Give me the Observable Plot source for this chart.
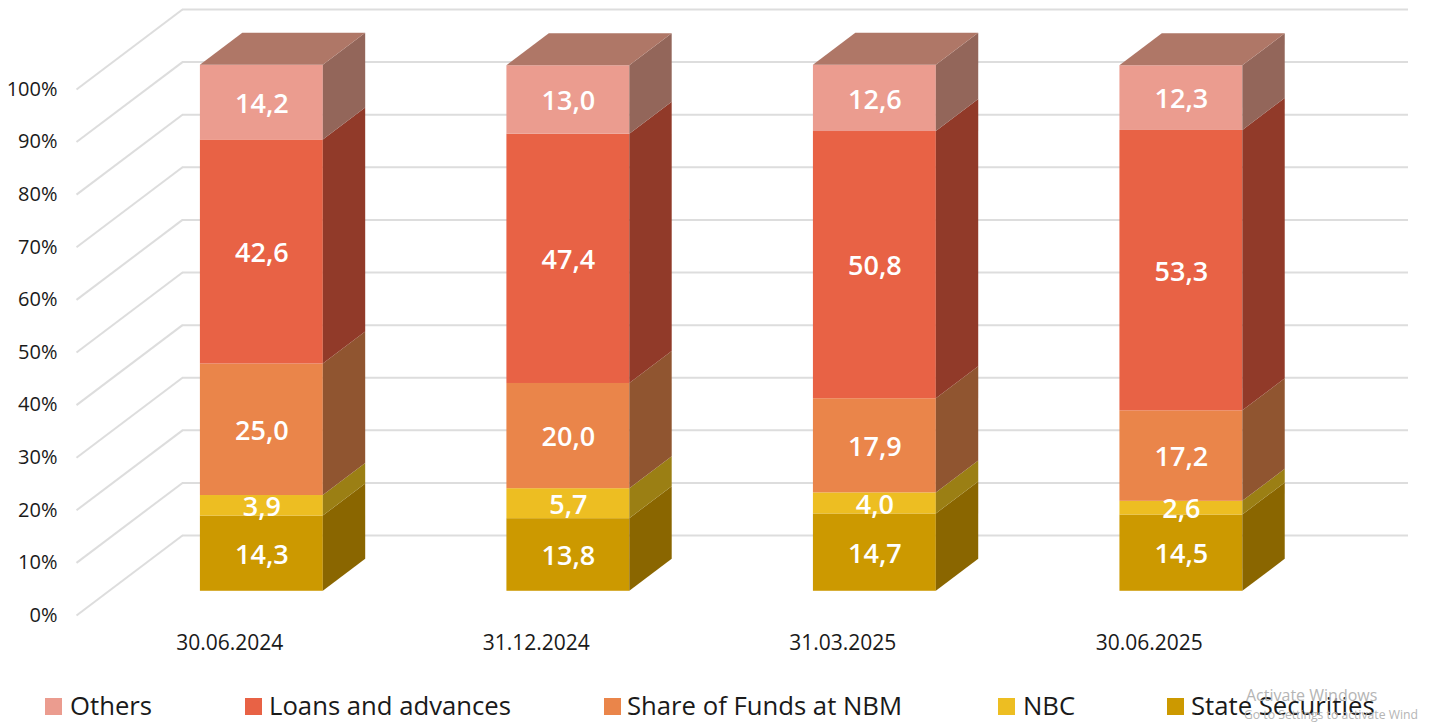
<!DOCTYPE html>
<html><head><meta charset="utf-8">
<script src="https://cdn.jsdelivr.net/npm/d3@7"></script>
<script src="https://cdn.jsdelivr.net/npm/@observablehq/plot@0.6"></script>
<style>
html,body{margin:0;padding:0;background:#fff;overflow:hidden}
#wrap{position:relative;width:1431px;height:722px;font-family:"Open Sans",sans-serif;color:#1a1a1a}
#wrap svg{display:block}
.lg{position:absolute;top:689px;font-size:25.7px;line-height:34px;white-space:nowrap}
.sw{position:absolute;top:698px;width:17px;height:17px}
.wm{position:absolute;color:#b5b5b5;white-space:nowrap}
</style></head><body><div id="wrap"></div>
<script>
const dates = ["30.06.2024","31.12.2024","31.03.2025","30.06.2025"];
const stateSecurities = [14.3,13.8,14.7,14.5];
const nbc = [3.9,5.7,4.0,2.6];
const shareOfFunds = [25.0,20.0,17.9,17.2];
const loans = [42.6,47.4,50.8,53.3];
const others = [14.2,13.0,12.6,12.3];
const seriesNames = ["State Securities","NBC","Share of Funds at NBM","Loans and advances","Others"];
const seriesValues = [stateSecurities,nbc,shareOfFunds,loans,others];
const frontColors = ["#CC9900","#EDBE22","#EA854A","#E86245","#EB9C8F"];
const sideColors = ["#8A6600","#9B7F14","#905530","#913A29","#93665A"];
const topColor = "#AF7767";
const gridColor = "#DDDDDD";
const yTicks = d3.range(0,101,10);

// oblique projection: depth z in [0,1] shifts along the x and y scales
const depthX = 0.3457, depthY = 15.2;
const zFront = 0.303, zBack = 0.703, barW = 0.401;
const px = (i,z) => i + z*depthX;
const py = (v,z) => v + z*depthY;

const segs = [];
dates.forEach((d,i)=>{
  let base = 0;
  seriesValues.forEach((vals,s)=>{
    const v = vals[i];
    segs.push({i,s,id:i+"-"+s,y0:base,y1:base+v,v});
    base += v;
  });
});
const sum = i => seriesValues.reduce((a,vals)=>a+vals[i],0);
const sidePts = segs.flatMap(g=>[zFront,zBack].map(z=>({
  id:g.id, x:px(g.i+barW/2,z), y1:py(g.y0,z), y2:py(g.y1,z), fill:sideColors[g.s]
})));
const topPts = dates.flatMap((d,i)=>[zFront,zBack].map(z=>({
  id:i, y:py(sum(i),z), x1:px(i-barW/2,z), x2:px(i+barW/2,z)
})));

const chart = Plot.plot({
  width:1431, height:680,
  marginLeft:76, marginRight:23, marginTop:9, marginBottom:65,
  x:{type:"linear",domain:[-0.5,3.5+depthX]},
  y:{domain:[0,100+depthY]},
  style:{fontFamily:'"Open Sans",sans-serif',background:"#fff",color:"#1a1a1a"},
  marks:[
    Plot.ruleY(yTicks,{y:v=>py(v,1),x1:()=>-0.5+depthX,x2:()=>3.5+depthX,stroke:gridColor,strokeWidth:2}),
    Plot.link(yTicks,{x1:()=>-0.5,y1:v=>v,x2:()=>-0.5+depthX,y2:v=>py(v,1),stroke:gridColor,strokeWidth:2}),
    Plot.rect(segs,{x1:g=>px(g.i-barW/2,zFront),x2:g=>px(g.i+barW/2,zFront),y1:g=>py(g.y0,zFront),y2:g=>py(g.y1,zFront),fill:g=>frontColors[g.s]}),
    Plot.areaY(sidePts,{x:"x",y1:"y1",y2:"y2",z:"id",fill:"fill"}),
    Plot.areaX(topPts,{y:"y",x1:"x1",x2:"x2",z:"id",fill:topColor}),
    Plot.text(segs,{x:g=>px(g.i,zFront),y:g=>py((g.y0+g.y1)/2,zFront),text:g=>g.v.toFixed(1).replace(".",","),fill:"#fff",fontSize:27,fontWeight:600,dy:1.5}),
    Plot.axisY({ticks:yTicks,tickFormat:d=>d+"%",tickSize:0,tickPadding:19,fontSize:20,label:null}),
    Plot.axisX({ticks:[0,1,2,3],tickFormat:i=>dates[i],tickSize:0,tickPadding:20,fontSize:21,label:null})
  ]
});
const wrap = document.getElementById("wrap");
wrap.appendChild(chart);

const legendOrder = [
  {s:4,sw:45,tx:70},{s:3,sw:245,tx:269},{s:2,sw:604,tx:627},{s:1,sw:998,tx:1023},{s:0,sw:1167,tx:1191}
];
legendOrder.forEach(l=>{
  const a=document.createElement("div");a.className="sw";a.style.left=l.sw+"px";a.style.background=frontColors[l.s];wrap.appendChild(a);
  const b=document.createElement("div");b.className="lg";b.style.left=l.tx+"px";b.textContent=seriesNames[l.s];wrap.appendChild(b);
});
[["Activate Windows",1246,684,16],["Go to Settings to activate Wind",1244,706,12.2]].forEach(([t,x,y,f])=>{
  const w=document.createElement("div");w.className="wm";w.textContent=t;w.style.left=x+"px";w.style.top=y+"px";w.style.fontSize=f+"px";wrap.appendChild(w);
});
</script></body></html>
